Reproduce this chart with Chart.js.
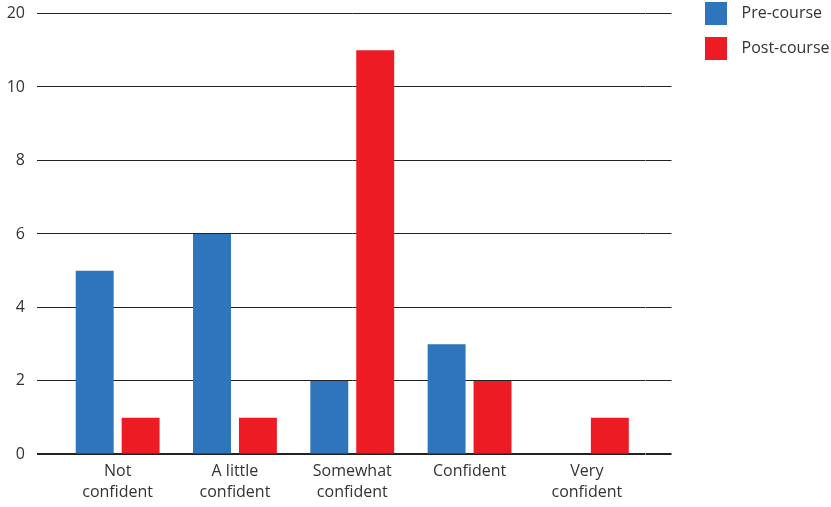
<!DOCTYPE html>
<html><head><meta charset="utf-8">
<script src="https://cdn.jsdelivr.net/npm/chart.js@4/dist/chart.umd.min.js"></script>
<style>html,body{margin:0;padding:0;background:#fff;overflow:hidden}#wrap{width:831px;height:507px}</style>
</head><body><div id="wrap"><canvas id="c" width="831" height="507"></canvas></div>
<script>
const categories = [['Not', 'confident'], ['A little', 'confident'], ['Somewhat', 'confident'], 'Confident', ['Very', 'confident']];
const preCourse = [5, 6, 2, 3, 0];
const postCourse = [1, 1, 11, 2, 1];
const yTickLabels = ['0', '2', '4', '6', '8', '10', '20'];
const seriesNames = ['Pre-course', 'Post-course'];
const seriesColors = ['#2e75bb', '#ed1c24'];

const FONT = "'Open Sans', 'Noto Sans', sans-serif";
const TEXT = '#333333';
const GRID = '#222222';
const gridWidth = c => (c.tick && c.tick.value === 0 ? 2 : 1);

function swatch(color) {
  const cv = document.createElement('canvas');
  cv.width = 22; cv.height = 23;
  const g = cv.getContext('2d');
  g.fillStyle = color;
  g.fillRect(0, 0, 22, 23);
  return cv;
}

new Chart(document.getElementById('c'), {
  type: 'bar',
  data: {
    labels: categories,
    datasets: [
      { label: seriesNames[0], data: preCourse, backgroundColor: seriesColors[0], categoryPercentage: 0.783, barPercentage: 0.826 },
      { label: seriesNames[1], data: postCourse, backgroundColor: seriesColors[1], categoryPercentage: 0.783, barPercentage: 0.826 }
    ]
  },
  plugins: [{
    id: 'crisp',
    beforeDraw(chart) { chart.ctx.imageSmoothingEnabled = false; }
  }],
  options: {
    responsive: false,
    animation: false,
    devicePixelRatio: 1,
    layout: { padding: { top: -13.5, right: -8.5, bottom: -3, left: 0 } },
    plugins: {
      tooltip: { enabled: false },
      legend: {
        position: 'right',
        align: 'start',
        maxWidth: 220,
        labels: {
          usePointStyle: true,
          pointStyleWidth: 35,
          padding: 19,
          color: TEXT,
          font: { family: FONT, size: 16 },
          generateLabels(chart) {
            const items = Chart.defaults.plugins.legend.labels.generateLabels(chart);
            items.forEach((it, i) => { it.pointStyle = swatch(seriesColors[i]); it.lineWidth = 0; });
            return items;
          }
        }
      }
    },
    scales: {
      x: {
        grid: { display: false, drawTicks: false },
        border: { display: false },
        ticks: { color: TEXT, font: { family: FONT, size: 16, lineHeight: 1.3 }, padding: 7, maxRotation: 0, autoSkip: false }
      },
      y: {
        position: 'left',
        min: 0, max: 12,
        afterFit(s) { s.width = 59; },
        border: { display: false },
        grid: { color: GRID, lineWidth: gridWidth, tickLength: 22, drawTicks: true },
        ticks: {
          stepSize: 2, padding: 12, color: TEXT,
          font: { family: FONT, size: 16, lineHeight: '3px' },
          callback: (v, i) => yTickLabels[i]
        }
      },
      y2: {
        position: 'right',
        min: 0, max: 12,
        afterFit(s) { s.width = 34; },
        border: { display: false },
        grid: { color: GRID, lineWidth: gridWidth, tickLength: 26, drawTicks: true, drawOnChartArea: false },
        ticks: { stepSize: 2, display: false }
      }
    }
  }
});
</script></body></html>
